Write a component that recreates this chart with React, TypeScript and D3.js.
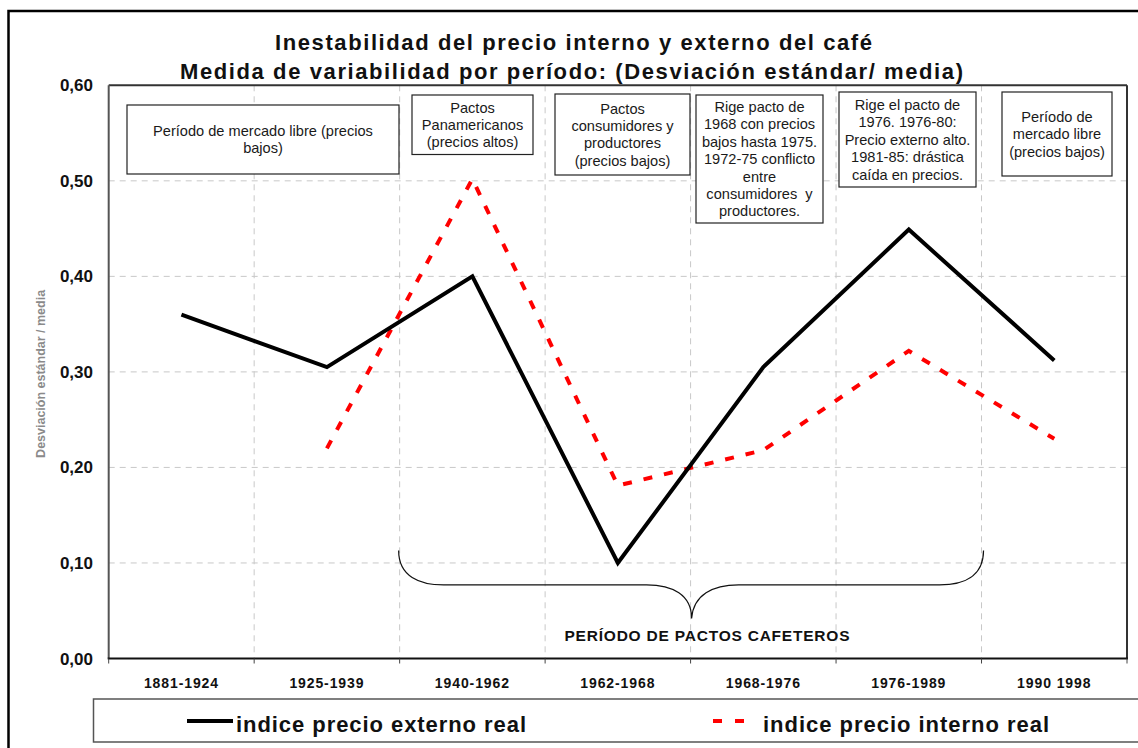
import React from 'react'
import * as d3 from 'd3'

// periods on the x axis
const periods = ['1881-1924', '1925-1939', '1940-1962', '1962-1968', '1968-1976', '1976-1989', '1990 1998']
// desviación estándar / media
const externo = [0.36, 0.305, 0.4, 0.1, 0.305, 0.449, 0.312]
const interno: (number | null)[] = [null, 0.22, 0.502, 0.181, 0.218, 0.322, 0.23]
const yTicks = [0, 0.1, 0.2, 0.3, 0.4, 0.5, 0.6]

const titleLines = [
  'Inestabilidad del precio interno y externo del café',
  'Medida de variabilidad por período: (Desviación estándar/ media)',
]
const yTitle = 'Desviación estándar / media'
const braceLabel = 'PERÍODO DE PACTOS CAFETEROS'
const seriesNames = ['indice precio externo real', 'indice precio interno real']

const notes = [
  ['Período de mercado libre (precios', 'bajos)'],
  ['Pactos', 'Panamericanos', '(precios altos)'],
  ['Pactos', 'consumidores y', 'productores', '(precios bajos)'],
  ['Rige pacto de', '1968 con precios', 'bajos hasta 1975.', '1972-75 conflicto', 'entre', 'consumidores  y', 'productores.'],
  ['Rige el pacto de', '1976. 1976-80:', 'Precio externo alto.', '1981-85: drástica', 'caída en precios.'],
  ['Período de', 'mercado libre', '(precios bajos)'],
]
// box layout for the notes: [x0, x1, y0, y1]
const noteBoxes = [
  [127, 399, 105, 174],
  [412, 533, 95, 154.5],
  [555, 690, 94, 175],
  [696, 823, 95, 223],
  [839, 976, 92, 187],
  [1002, 1112, 92, 176],
]

const width = 1138
const height = 748
const margin = { left: 108.7, top: 85.3, right: 1127, bottom: 658.5 }
const font = 'Liberation Sans, Arial, Helvetica, sans-serif'

const xScale = d3.scaleBand<string>().domain(periods).range([margin.left, margin.right]).padding(0)
const bw = xScale.bandwidth()
const xMid = (p: string) => (xScale(p) as number) + bw / 2
const yScale = d3.scaleLinear().domain([0, 0.6]).range([margin.bottom, margin.top])

const lineGen = d3
  .line<[string, number | null]>()
  .defined(d => d[1] !== null)
  .x(d => xMid(d[0]))
  .y(d => yScale(d[1] as number))

function Grid() {
  const bounds = periods.slice(1).map(p => xScale(p) as number)
  return (
    <g>
      {yTicks.slice(1, -1).map(t => (
        <line key={t} x1={margin.left} x2={margin.right} y1={yScale(t)} y2={yScale(t)}
          stroke="#c8c8c8" strokeWidth={1} strokeDasharray="6,5" />
      ))}
      {bounds.map(b => (
        <line key={b} x1={b} x2={b} y1={margin.top} y2={margin.bottom}
          stroke="#c8c8c8" strokeWidth={1} strokeDasharray="6,5" />
      ))}
    </g>
  )
}

function Axes() {
  const bounds = [...periods.map(p => xScale(p) as number), margin.right]
  return (
    <g>
      <line x1={margin.left} x2={margin.right} y1={margin.top} y2={margin.top} stroke="#333" strokeWidth={2} />
      <line x1={margin.right} x2={margin.right} y1={margin.top} y2={margin.bottom} stroke="#333" strokeWidth={2} />
      <line x1={margin.left} x2={margin.left} y1={margin.top} y2={margin.bottom} stroke="#555" strokeWidth={2} />
      <line x1={margin.left - 1} x2={margin.right + 1} y1={margin.bottom} y2={margin.bottom} stroke="#111" strokeWidth={2} />
      {bounds.map(b => (
        <line key={b} x1={b} x2={b} y1={margin.bottom} y2={margin.bottom + 5} stroke="#444" strokeWidth={1} />
      ))}
      {yTicks.map(t => (
        <text key={t} x={93} y={yScale(t) + 6} textAnchor="end" fontFamily={font} fontWeight="bold" fontSize={17} fill="#111">
          {d3.format('.2f')(t).replace('.', ',')}
        </text>
      ))}
      {periods.map(p => (
        <text key={p} x={xMid(p)} y={688} textAnchor="middle" fontFamily={font} fontWeight="bold" fontSize={14}
          letterSpacing={0.9} fill="#111">
          {p}
        </text>
      ))}
      <text transform={`translate(45, ${(margin.top + margin.bottom) / 2 + 2}) rotate(-90)`} textAnchor="middle"
        fontFamily={font} fontWeight="bold" fontSize={12} fill="#8a8a8a" textLength={168} lengthAdjust="spacingAndGlyphs">
        {yTitle}
      </text>
    </g>
  )
}

function Notes() {
  const lh = 17.4
  const fs = 14.6
  return (
    <g>
      {notes.map((lines, i) => {
        const [x0, x1, y0, y1] = noteBoxes[i]
        const cx = (x0 + x1) / 2
        const cy = (y0 + y1) / 2
        return (
          <g key={i}>
            <rect x={x0} y={y0} width={x1 - x0} height={y1 - y0} fill="#fff" stroke="#222" strokeWidth={1.2} />
            {lines.map((l, j) => (
              <text key={j} x={cx} y={cy + (j - (lines.length - 1) / 2) * lh + fs * 0.36} textAnchor="middle"
                fontFamily={font} fontSize={fs} fill="#1a1a1a" style={{ whiteSpace: 'pre' }}>
                {l}
              </text>
            ))}
          </g>
        )
      })}
    </g>
  )
}

function Brace() {
  const xl = xScale(periods[2]) as number
  const xr = xScale(periods[6]) as number
  const xc = xScale(periods[4]) as number
  const yTop = yScale(0.113)
  const yFlat = yScale(0.077)
  const yTip = yScale(0.042)
  const path = d3.path()
  path.moveTo(xl - 1, yTop)
  path.bezierCurveTo(xl - 1, yTop + 26, xl + 20, yFlat, xl + 44, yFlat)
  path.lineTo(xc - 44, yFlat)
  path.bezierCurveTo(xc - 18, yFlat, xc + 1, yFlat + 10, xc + 1, yTip)
  path.bezierCurveTo(xc + 3, yFlat + 10, xc + 22, yFlat, xc + 48, yFlat)
  path.lineTo(xr - 42, yFlat)
  path.bezierCurveTo(xr - 18, yFlat, xr + 2, yTop + 26, xr + 2, yTop)
  return (
    <g>
      <path d={path.toString()} fill="none" stroke="#111" strokeWidth={1.2} />
      <text x={707} y={641} textAnchor="middle" fontFamily={font} fontWeight="bold" fontSize={15.5} fill="#111"
        textLength={285} lengthAdjust="spacing">
        {braceLabel}
      </text>
    </g>
  )
}

function Series() {
  const ext = periods.map((p, i) => [p, externo[i]] as [string, number | null])
  const int = periods.map((p, i) => [p, interno[i]] as [string, number | null])
  return (
    <g>
      <path d={lineGen(int) as string} fill="none" stroke="#ff0000" strokeWidth={4} strokeDasharray="9,12" />
      <path d={lineGen(ext) as string} fill="none" stroke="#000" strokeWidth={4} strokeLinejoin="miter" />
    </g>
  )
}

function Legend() {
  return (
    <g>
      <rect x={93.5} y={699} width={1100} height={43} fill="#fff" stroke="#555" strokeWidth={1.5} />
      <line x1={187} x2={233} y1={721} y2={721} stroke="#000" strokeWidth={4} />
      <text x={236} y={732} fontFamily={font} fontWeight="bold" fontSize={22} fill="#111" textLength={290} lengthAdjust="spacing">
        {seriesNames[0]}
      </text>
      <line x1={713} x2={746} y1={721} y2={721} stroke="#ff0000" strokeWidth={4} strokeDasharray="9,13" />
      <text x={763} y={732} fontFamily={font} fontWeight="bold" fontSize={22} fill="#111" textLength={286} lengthAdjust="spacing">
        {seriesNames[1]}
      </text>
    </g>
  )
}

export default function App() {
  return (
    <svg width={width} height={height} style={{ position: 'absolute', left: 0, top: 0, display: 'block', background: '#fff' }}>
      <rect x={0} y={0} width={width} height={height} fill="#fff" />
      <rect x={8.5} y={11} width={1300} height={900} fill="none" stroke="#000" strokeWidth={2.5} />
      <text x={573.5} y={50} textAnchor="middle" fontFamily={font} fontWeight="bold" fontSize={22} fill="#111"
        textLength={597} lengthAdjust="spacing">
        {titleLines[0]}
      </text>
      <text x={571.5} y={79} textAnchor="middle" fontFamily={font} fontWeight="bold" fontSize={22} fill="#111"
        textLength={783} lengthAdjust="spacing">
        {titleLines[1]}
      </text>
      <Grid />
      <Axes />
      <Brace />
      <Series />
      <Notes />
      <Legend />
    </svg>
  )
}
